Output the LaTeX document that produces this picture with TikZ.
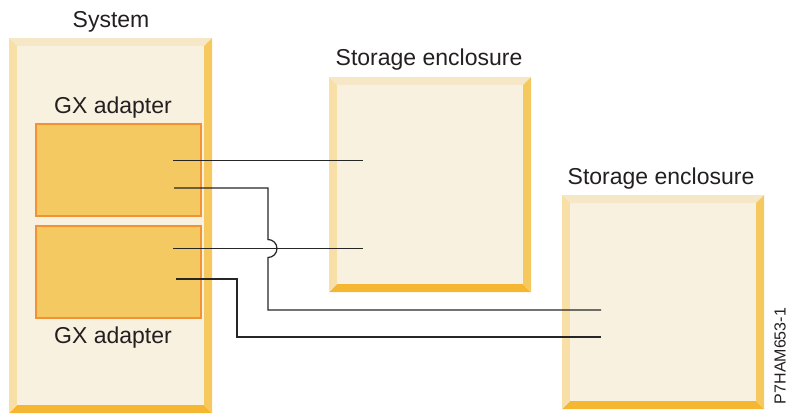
\documentclass[tikz,border=0pt]{standalone}
\usepackage{fontspec}
\setmainfont{Liberation Sans}
\definecolor{innerc}{HTML}{F8F1E0}
\definecolor{bevT}{HTML}{F6E8C6}
\definecolor{bevL}{HTML}{F7DFA6}
\definecolor{bevR}{HTML}{F5C95E}
\definecolor{bevB}{HTML}{F5B731}
\definecolor{adfill}{HTML}{F5C961}
\definecolor{adedge}{HTML}{F39232}
\definecolor{txt}{HTML}{231F20}
\definecolor{wire}{HTML}{262626}
\newcommand\bevbox[5]{%
  \fill[bevT] (#2,#3) -- (#4,#3) -- ({#4-8},{#3+8}) -- ({#2+8},{#3+8}) -- cycle;
  \fill[bevB] (#2,#5) -- (#4,#5) -- ({#4-8},{#5-8}) -- ({#2+8},{#5-8}) -- cycle;
  \fill[bevL] (#2,#3) -- ({#2+8},{#3+8}) -- ({#2+8},{#5-8}) -- (#2,#5) -- cycle;
  \fill[bevR] (#4,#3) -- ({#4-8},{#3+8}) -- ({#4-8},{#5-8}) -- (#4,#5) -- cycle;
  \fill[innerc] ({#2+8},{#3+8}) rectangle ({#4-8},{#5-8});
  \coordinate (#1) at ({(#2+#4)/2},{(#3+#5)/2});
}
\tikzset{
  lbl/.style={text=txt, font=\fontsize{23}{27}\selectfont, anchor=base, inner sep=0pt},
  adapter/.style={fill=adfill, draw=adedge, line width=2pt},
  wirestyle/.style={draw=wire, line width=1.2pt},
}
\begin{document}
\begin{tikzpicture}[x=1pt,y=-1pt]
\useasboundingbox (0,0) rectangle (790,413);
% boxes
\bevbox{sys}{9}{38}{212}{413}
\bevbox{st1}{329}{77}{531}{292}
\bevbox{st2}{562}{195}{764}{409}
\node[adapter, minimum width=165pt, minimum height=92pt, inner sep=0pt] (ad1) at (118,169.5) {};
\node[adapter, minimum width=165pt, minimum height=92pt, inner sep=0pt] (ad2) at (118,271.5) {};
% labels
\node[lbl] (tsys) at (111,27) {System};
\node[lbl] (tst1) at (429,65) {Storage enclosure};
\node[lbl] (tst2) at (661,184) {Storage enclosure};
\node[lbl] (tad1) at (113,113) {GX adapter};
\node[lbl] (tad2) at (113,343) {GX adapter};
\node[text=txt, font=\fontsize{16}{19}\selectfont, rotate=90, inner sep=0pt] (fig) at (780,356) {P7HAM653-1};
% wire end points
\coordinate (a1) at (173,160.5);
\coordinate (b1) at (363,160.5);
\coordinate (a2) at (174,188);
\coordinate (b2) at (601,310);
\coordinate (a3) at (173,248.5);
\coordinate (b3) at (363,248.5);
\coordinate (a4) at (176,279);
\coordinate (b4) at (601,337);
% wires
\draw[wirestyle] (a1) -- (b1);
\draw[wirestyle] (a3) -- (b3);
\draw[wirestyle] (a2) -- (268,188) -- (268,239.5) arc (-90:90:9) -- (268,310) -- (b2);
\draw[wirestyle] (a4) -- (237,279) -- (237,337) -- (b4);
\end{tikzpicture}
\end{document}
